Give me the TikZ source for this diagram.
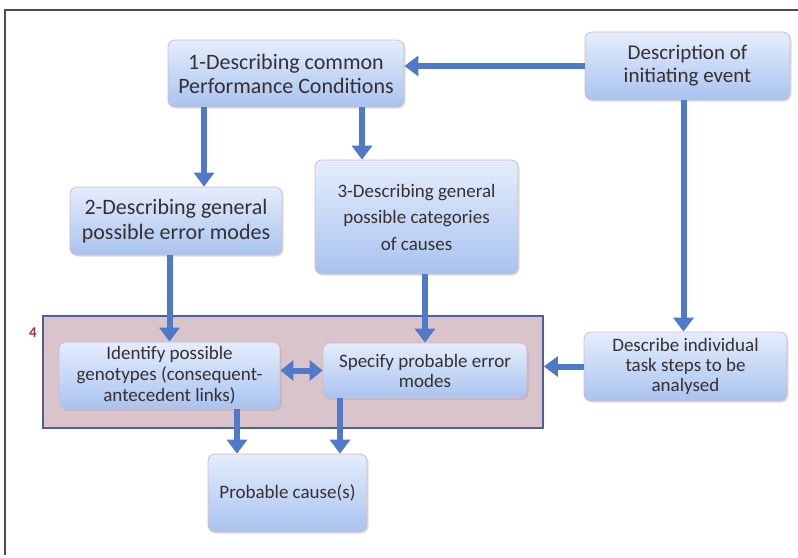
\documentclass[tikz,border=0pt]{standalone}
\usepackage{fontspec}
\setmainfont{Carlito}
\usetikzlibrary{arrows.meta,shadows}
\definecolor{arrowblue}{HTML}{5079C9}
\definecolor{boxtop}{HTML}{E4EDFC}
\definecolor{boxbottom}{HTML}{A9C3EF}
\definecolor{boxedge}{HTML}{D6B9CC}
\definecolor{textgray}{HTML}{363032}
\definecolor{groupfill}{HTML}{D9C4CB}
\definecolor{groupedge}{HTML}{4C5E9E}
\definecolor{labelred}{HTML}{A0353A}
\tikzset{
  stepbox/.style={draw=boxedge, line width=0.8pt, rounded corners=7pt,
    top color=boxtop, bottom color=boxbottom, text=textgray,
    align=center, inner sep=2pt,
    drop shadow={shadow xshift=1.5pt, shadow yshift=-1.5pt, opacity=0.25}},
  arr/.style={draw=arrowblue, line width=6pt,
    -{Triangle[width=20pt,length=14pt]}},
  dblarr/.style={draw=arrowblue, line width=6pt,
    {Triangle[width=20pt,length=13pt]}-{Triangle[width=20pt,length=13pt]}},
}
\begin{document}
\begin{tikzpicture}[x=1pt,y=-1pt]
\useasboundingbox (0,0) rectangle (798,557);
\fill[white] (0,0) rectangle (798,557);
% cropped frame: only top and left edges remain
\draw[line width=1.6pt, draw=black!70] (798,10) -- (5,10) -- (5,555);

% group 4 background
\node[draw=groupedge, line width=1.8pt, fill=groupfill,
      minimum width=500pt, minimum height=112pt, inner sep=0pt]
      (group) at (293,372) {};
\node[text=labelred, font=\fontsize{15}{17}\selectfont\bfseries] (lab4) at (33,333) {4};

% process boxes
\node[stepbox, minimum width=236pt, minimum height=67pt,
      font=\fontsize{22}{24}\selectfont] (pc) at (286,73.5)
      {1-Describing common\\Performance Conditions};
\node[stepbox, minimum width=205pt, minimum height=68pt,
      font=\fontsize{21}{23}\selectfont] (init) at (687.5,66)
      {Description of\\initiating event};
\node[stepbox, minimum width=212pt, minimum height=68pt,
      font=\fontsize{22}{25}\selectfont] (modes) at (176,221)
      {2-Describing general\\possible error modes};
\node[stepbox, minimum width=203pt, minimum height=114pt,
      font=\fontsize{19}{26.5}\selectfont] (causes) at (416.5,217)
      {3-Describing general\\possible categories\\of causes};
\node[stepbox, minimum width=203pt, minimum height=69pt,
      font=\fontsize{19}{20}\selectfont] (indiv) at (685.5,366.5)
      {Describe individual\\task steps to be\\analysed};
\node[stepbox, minimum width=221pt, minimum height=67pt,
      font=\fontsize{19}{21}\selectfont] (geno) at (169.5,375.5)
      {Identify possible\\genotypes (consequent-\\antecedent links)};
\node[stepbox, minimum width=204pt, minimum height=55pt,
      font=\fontsize{19}{20}\selectfont] (spec) at (425,370.5)
      {Specify probable error\\modes};
\node[stepbox, minimum width=159pt, minimum height=78pt,
      font=\fontsize{19}{22}\selectfont] (cause) at (287.5,493)
      {Probable cause(s)};

% connectors
\draw[arr] (init.west) -- (init.west -| pc.east);
\draw[arr] ([xshift=-82pt]pc.south) -- ([xshift=-82pt]pc.south |- modes.north);
\draw[arr] ([xshift=76pt]pc.south) -- ([xshift=76pt]pc.south |- causes.north);
\draw[arr] ([xshift=-4pt]init.south) -- ([xshift=-4pt]init.south |- indiv.north);
\draw[arr] (modes.south -| geno.north) -- (geno.north);
\draw[arr] (causes.south -| spec.north) -- (spec.north);
\draw[arr] (indiv.west) -- (indiv.west -| group.east);
\draw[dblarr] (spec.west -| geno.east) -- (spec.west);
\draw[arr] ([xshift=67.5pt]geno.south) -- ([xshift=67.5pt]geno.south |- cause.north);
\draw[arr] ([xshift=-85pt]spec.south) -- ([xshift=-85pt]spec.south |- cause.north);
\end{tikzpicture}
\end{document}
